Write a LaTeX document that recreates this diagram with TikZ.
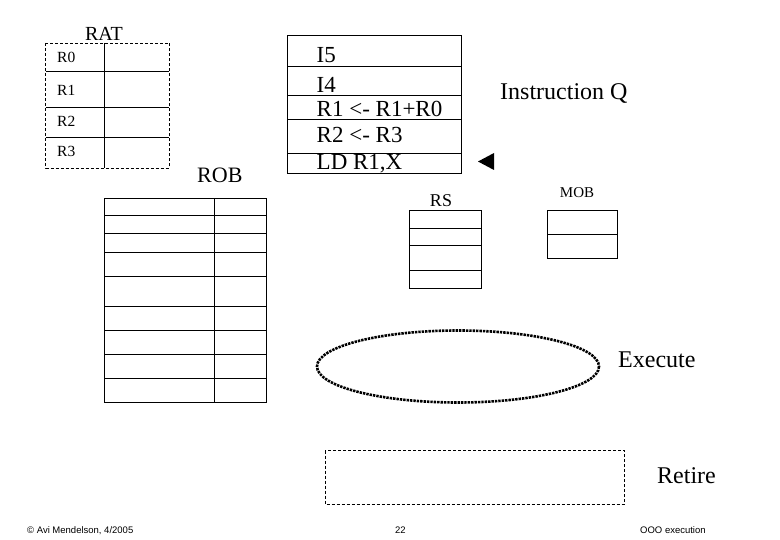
\documentclass[tikz,border=0pt]{standalone}
\usepackage{fontspec}
\setmainfont{Liberation Serif}
\newfontfamily\footfont{Liberation Sans}
\begin{document}
\begin{tikzpicture}[x=1pt,y=-1pt,
  box/.style={draw=black,line width=1pt},
  dashbox/.style={draw=black,line width=0.8pt,dash pattern=on 3pt off 2pt},
  lbl/.style={inner sep=0pt,anchor=base west},
  clbl/.style={inner sep=0pt,anchor=base},
  foot/.style={inner sep=0pt,anchor=base west,font=\footfont\fontsize{9.5}{10}\selectfont}]
\useasboundingbox[fill=white] (0,0) rectangle (780,540);
% RAT
\draw[dashbox] (45.5,43) rectangle (169,168);
\draw[line width=1pt] (104,43) -- (104,168);
\foreach \yy in {72,108,138} \draw[line width=1pt] (45.5,\yy) -- (169,\yy);
\node[clbl,font=\fontsize{20}{22}\selectfont] (rat) at (104,41) {RAT};
\node[lbl,font=\fontsize{15.5}{17}\selectfont] (r0) at (57,63) {R0};
\node[lbl,font=\fontsize{15.5}{17}\selectfont] (r1) at (57,96) {R1};
\node[lbl,font=\fontsize{15.5}{17}\selectfont] (r2) at (57,127) {R2};
\node[lbl,font=\fontsize{15.5}{17}\selectfont] (r3) at (57,157) {R3};
% Instruction queue
\draw[box] (287,36) rectangle (461.5,174);
\foreach \yy in {66.5,96,120,153.5} \draw[line width=1pt] (287,\yy) -- (461.5,\yy);
\node[lbl,font=\fontsize{23}{25}\selectfont] (i5) at (316.5,63) {I5};
\node[lbl,font=\fontsize{23}{25}\selectfont] (i4) at (316.5,93) {I4};
\node[lbl,font=\fontsize{23}{25}\selectfont] (q3) at (316.5,117) {R1 <- R1+R0};
\node[lbl,font=\fontsize{23}{25}\selectfont] (q2) at (316.5,143) {R2 <- R3};
\node[lbl,font=\fontsize{23}{25}\selectfont] (q1) at (316.5,170) {LD R1,X};
\node[lbl,font=\fontsize{24}{26}\selectfont] (iq) at (500,100) {Instruction Q};
\fill (478,161.5) -- (494,153) -- (494,170) -- cycle;
% ROB
\node[lbl,font=\fontsize{22}{24}\selectfont] (robl) at (197,183) {ROB};
\draw[box] (104.5,198.5) rectangle (266,402.5);
\draw[line width=1pt] (214.5,198.5) -- (214.5,402.5);
\foreach \yy in {216,234,252.5,276.5,306.5,330.5,354.5,378.5} \draw[line width=1pt] (104.5,\yy) -- (266,\yy);
% RS
\node[clbl,font=\fontsize{18}{20}\selectfont] (rsl) at (441,207) {RS};
\draw[box] (409,210.5) rectangle (481,288.5);
\foreach \yy in {228.5,246,270.5} \draw[line width=1pt] (409,\yy) -- (481,\yy);
% MOB
\node[clbl,font=\fontsize{15}{17}\selectfont] (mobl) at (577,198) {MOB};
\draw[box] (547,210.5) rectangle (617.5,258.5);
\draw[line width=1pt] (547,234.5) -- (617.5,234.5);
% Execute
\draw[line width=2.6pt,dash pattern=on 2.4pt off 1pt] (458,366.5) ellipse [x radius=141,y radius=36];
\node[lbl,font=\fontsize{24}{26}\selectfont] (exe) at (618,368) {Execute};
% Retire
\draw[dashbox] (325,450.5) rectangle (624.5,504);
\node[lbl,font=\fontsize{24}{26}\selectfont] (ret) at (657,483) {Retire};
% footer
\node[foot] (f1) at (27,533) {© Avi Mendelson, 4/2005};
\node[foot] (f2) at (395,533) {22};
\node[foot] (f3) at (640,533) {OOO execution};
\end{tikzpicture}
\end{document}
